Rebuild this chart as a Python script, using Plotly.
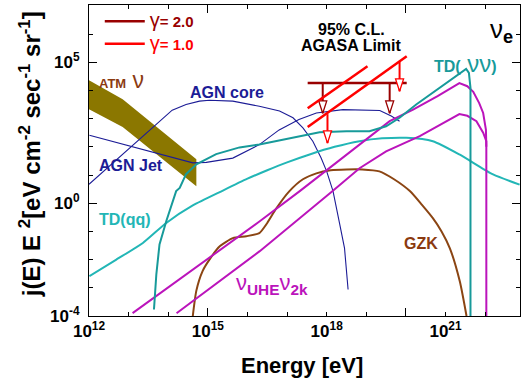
import numpy as np
import plotly.graph_objects as go

# ---- data: log10(E [eV]) and log10(E^2 j(E)) ----
atm_logE = [12.0, 12.85, 14.71]
atm_top = [4.36, 3.69, 1.56]
atm_bot = [3.33, 2.70, 0.60]

agn_core_logE = [12.0, 14.1, 14.45, 14.79, 15.04, 15.63, 16.3, 16.81, 17.15, 17.4, 17.65,
                 17.86, 18.0, 18.16, 18.33, 18.45, 18.54]
agn_core_logF = [0.67, 3.30, 3.50, 3.62, 3.65, 3.62, 3.44, 3.27, 3.03, 2.67, 2.2,
                 1.6, 1.13, 0.43, -0.75, -1.59, -3.06]

agn_jet_logE = [12.01, 13.36, 14.62, 14.96, 15.63, 16.3, 16.8, 17.3, 17.74, 18.41, 19.34, 19.63, 19.84]
agn_jet_logF = [2.41, 1.90, 1.43, 1.45, 1.60, 2.08, 2.6, 2.97, 3.2, 3.32, 3.29, 3.09, 2.91]

td_nn_logE = [13.64, 13.70, 13.78, 13.95, 14.2, 14.29, 14.45, 14.71, 15.21, 15.8, 16.3, 17.14,
              17.82, 18.5, 19.08, 19.5, 19.84, 20.26, 20.85, 21.35, 21.52, 21.59, 21.63, 21.63]
td_nn_logF = [-3.77, -2.52, -1.46, -0.64, 0.43, 0.54, 1.03, 1.38, 1.74, 1.98, 2.08, 2.32,
              2.52, 2.55, 2.55, 2.73, 3.03, 3.5, 4.09, 4.62, 4.76, 4.62, 4.09, -4.0]

td_qq_logE = [12.01, 12.69, 13.36, 13.95, 14.62, 15.38, 16.0, 16.5, 17.0, 17.57, 18.2, 18.83,
              19.4, 20.01, 20.68, 21.35, 22.2, 22.87]
td_qq_logF = [-2.59, -2.0, -1.41, -0.7, -0.08, 0.45, 0.87, 1.17, 1.45, 1.73, 2.0, 2.2,
              2.3, 2.32, 2.2, 1.73, 1.02, 0.66]

gzk_logE = [14.62, 14.71, 14.87, 15.04, 15.3, 15.63, 15.97, 16.3, 16.5, 16.73, 17.06, 17.4,
            17.74, 18.1, 18.5, 18.9, 19.33, 19.7, 20.1, 20.4, 20.68, 20.9, 21.11, 21.36, 21.53]
gzk_logF = [-4.0, -3.1, -2.4, -2.0, -1.53, -1.24, -1.17, -1.06, -0.7, -0.18, 0.43, 0.85,
            1.06, 1.17, 1.2, 1.2, 1.13, 0.85, 0.43, -0.05, -0.53, -1.0, -1.6, -2.77, -4.0]

uhe_hi_logE = [13.1, 16.31, 17.32, 18.58, 19.59, 20.18, 20.8, 21.35, 21.55, 21.7, 21.85,
               21.95, 22.02, 22.03]
uhe_hi_logF = [-3.9, -0.64, 0.43, 1.81, 2.91, 3.32, 3.8, 4.26, 4.15, 3.95, 3.55,
               3.2, 2.6, 2.0]

uhe_lo_logE = [14.21, 16.31, 18.15, 18.83, 19.5, 20.35, 21.35, 21.55, 21.78, 21.95, 22.03, 22.03]
uhe_lo_logF = [-3.9, -1.7, 0.43, 1.24, 1.84, 2.38, 3.16, 3.1, 2.91, 2.5, 2.2, -4.0]

# AGASA 95% C.L. limits
g2_logE = [17.52, 20.02]
g2_level = 4.26
g2_arrow_logE = [17.9, 19.59]
g2_arrow_tip = 3.19

g1_lines = [([17.52, 19.03], [3.37, 4.86]), ([17.52, 20.02], [2.70, 5.21])]
g1_arrow_logE = [18.02, 19.84]
g1_arrow_base = [3.16, 5.04]
g1_arrow_tip = [2.13, 3.97]

x_ticks = list(range(12, 23))
x_labels = {12: "10<sup>12</sup>", 15: "10<sup>15</sup>", 18: "10<sup>18</sup>", 21: "10<sup>21</sup>"}
x_major = [15, 20]
y_ticks = list(range(-4, 8))
y_labels = {-4: "10<sup>-4</sup>", 0: "10<sup>0</sup>", 5: "10<sup>5</sup>"}
y_major = [0, 5]

def p(v):
    return 10 ** np.asarray(v, dtype=float)

def seg(xs, y0s, y1s):
    sx, sy = [], []
    for e, a, b in zip(xs, y0s, y1s):
        sx += [10 ** e, 10 ** e, None]
        sy += [10 ** a, 10 ** b, None]
    return sx, sy

FONT = "Liberation Sans, Arial, sans-serif"
C_AGN = "#1c1c96"
C_TDNN = "#179a9a"
C_TDQQ = "#22b6b6"
C_GZK = "#8b4513"
C_UHE = "#bb14bb"
C_ATM = "#8b7700"
C_G2 = "#990000"
C_G1 = "#ff0000"

fig = go.Figure()

# ATM band
fig.add_trace(go.Scatter(x=p(atm_logE + atm_logE[::-1]), y=p(atm_top + atm_bot[::-1]),
                         fill="toself", fillcolor=C_ATM, line=dict(width=0, color=C_ATM),
                         mode="lines", showlegend=False, hoverinfo="skip"))

fig.add_trace(go.Scatter(x=p(agn_core_logE), y=p(agn_core_logF), mode="lines",
                         line=dict(color=C_AGN, width=1.1), showlegend=False))
fig.add_trace(go.Scatter(x=p(agn_jet_logE), y=p(agn_jet_logF), mode="lines",
                         line=dict(color=C_AGN, width=1.1), showlegend=False))
fig.add_trace(go.Scatter(x=p(td_qq_logE), y=p(td_qq_logF), mode="lines",
                         line=dict(color=C_TDQQ, width=2, shape="spline", smoothing=0.6), showlegend=False))
fig.add_trace(go.Scatter(x=p(gzk_logE), y=p(gzk_logF), mode="lines",
                         line=dict(color=C_GZK, width=2, shape="spline", smoothing=0.6), showlegend=False))
fig.add_trace(go.Scatter(x=p(uhe_hi_logE), y=p(uhe_hi_logF), mode="lines",
                         line=dict(color=C_UHE, width=2), showlegend=False))
fig.add_trace(go.Scatter(x=p(uhe_lo_logE), y=p(uhe_lo_logF), mode="lines",
                         line=dict(color=C_UHE, width=2), showlegend=False))
fig.add_trace(go.Scatter(x=p(td_nn_logE), y=p(td_nn_logF), mode="lines",
                         line=dict(color=C_TDNN, width=2), showlegend=False))

# AGASA gamma = 2.0
fig.add_trace(go.Scatter(x=p(g2_logE), y=p([g2_level] * 2), mode="lines",
                         line=dict(color=C_G2, width=2.5),
                         name='<span style="color:#990000;font-size:20px">γ</span>'
                              '<span style="color:#990000"><b>= 2.0</b></span>'))
sx, sy = seg(g2_arrow_logE, [g2_level] * 2, [g2_arrow_tip] * 2)
fig.add_trace(go.Scatter(x=sx, y=sy, mode="lines", line=dict(color=C_G2, width=2), showlegend=False))
fig.add_trace(go.Scatter(x=p(g2_arrow_logE), y=p([g2_arrow_tip] * 2), mode="markers",
                         marker=dict(symbol="arrow", angle=180, size=13, color="white",
                                     line=dict(color=C_G2, width=1.3)), showlegend=False))

# AGASA gamma = 1.0
for i, (le, lf) in enumerate(g1_lines):
    fig.add_trace(go.Scatter(x=p(le), y=p(lf), mode="lines", line=dict(color=C_G1, width=2.5),
                             showlegend=(i == 0), legendgroup="g1",
                             name='<span style="color:#ff0000;font-size:20px">γ</span>'
                                  '<span style="color:#ff0000"><b>= 1.0</b></span>'))
sx, sy = seg(g1_arrow_logE, g1_arrow_base, g1_arrow_tip)
fig.add_trace(go.Scatter(x=sx, y=sy, mode="lines", line=dict(color=C_G1, width=2), showlegend=False))
fig.add_trace(go.Scatter(x=p(g1_arrow_logE), y=p(g1_arrow_tip), mode="markers",
                         marker=dict(symbol="arrow", angle=180, size=13, color="white",
                                     line=dict(color=C_G1, width=1.3)), showlegend=False))

# invisible trace on overlay axes (carries the long ticks)
fig.add_trace(go.Scatter(x=[1e13], y=[1e1], xaxis="x2", yaxis="y2", mode="markers",
                         marker=dict(opacity=0), showlegend=False, hoverinfo="skip"))

def ann(text, lx, ly, color, size=16, xanchor="left"):
    fig.add_annotation(x=lx, y=ly, xref="x", yref="y", text=text, showarrow=False,
                       xanchor=xanchor, yanchor="middle",
                       font=dict(family=FONT, size=size, color=color))

ann('<b>ATM</b><span style="font-size:23px"> ν</span>', 12.19, 4.36, "#8b3a10", size=13)
ann("<b>AGN core</b>", 14.49, 3.94, C_AGN)
ann("<b>AGN Jet</b>", 12.19, 1.35, C_AGN)
ann("<b>TD(qq)</b>", 12.21, -0.57, C_TDQQ)
ann("<b>GZK</b>", 19.89, -1.42, "#8b3a10")
ann('<b>TD(</b><span style="font-size:24px"> νν</span><b>)</b>', 20.67, 4.96, C_TDNN)
ann("ν<sub><b>UHE</b></sub>ν<sub><b>2k</b></sub>", 15.67, -2.87, C_UHE, size=22)
ann("<b>95% C.L.</b>", 18.63, 6.17, "black", xanchor="center")
ann("<b>AGASA Limit</b>", 18.63, 5.6, "black", xanchor="center")
ann("ν<sub><b>e</b></sub>", 22.06, 6.13, "black", size=26)

# axis titles (placed as paper annotations for exact position)
fig.add_annotation(x=-0.137, y=0.52, xref="paper", yref="paper", showarrow=False,
                   textangle=-90, xanchor="center", yanchor="middle",
                   text="<b>j(E) E <sup>2</sup>[eV cm<sup>-2</sup> sec<sup>-1</sup> sr<sup>-1</sup>]</b>",
                   font=dict(family=FONT, size=24, color="black"))
fig.add_annotation(x=0.495, y=-0.158, xref="paper", yref="paper", showarrow=False,
                   xanchor="center", yanchor="middle", text="<b>Energy [eV]</b>",
                   font=dict(family=FONT, size=22, color="black"))

tick_font = dict(family=FONT, size=17, color="black")
fig.update_layout(
    width=521, height=382,
    margin=dict(l=89, r=1, t=5, b=66, autoexpand=False),
    paper_bgcolor="white", plot_bgcolor="white",
    font=dict(family=FONT, color="black"),
    xaxis=dict(type="log", range=[12, 22.88], showgrid=False, zeroline=False, automargin=False,
               showline=True, linecolor="black", linewidth=1, mirror="ticks",
               ticks="inside", ticklen=4, tickcolor="black",
               tickvals=p(x_ticks), ticktext=[("<b>%s</b>" % x_labels[t]) if t in x_labels else "" for t in x_ticks],
               tickfont=tick_font),
    yaxis=dict(type="log", range=[-4, 7.03], showgrid=False, zeroline=False, automargin=False,
               showline=True, linecolor="black", linewidth=1, mirror="ticks",
               ticks="inside", ticklen=4, tickcolor="black",
               tickvals=p(y_ticks), ticktext=[("<b>%s</b>" % y_labels[t]) if t in y_labels else "" for t in y_ticks],
               tickfont=tick_font, ticklabelstandoff=5),
    xaxis2=dict(type="log", range=[12, 22.88], overlaying="x", side="bottom", showgrid=False,
                zeroline=False, showline=False, mirror="ticks", ticks="inside", ticklen=8,
                tickcolor="black", tickvals=p(x_major), showticklabels=False),
    yaxis2=dict(type="log", range=[-4, 7.03], overlaying="y", side="left", showgrid=False,
                zeroline=False, showline=False, mirror="ticks", ticks="inside", ticklen=8,
                tickcolor="black", tickvals=p(y_major), showticklabels=False),
    legend=dict(x=0.025, y=1.0, xanchor="left", yanchor="top", bgcolor="rgba(0,0,0,0)",
                font=dict(family=FONT, size=15), itemwidth=40, tracegroupgap=0),
)

fig.write_html("out.html", config={"displayModeBar": False},
               post_script="document.body.style.margin='0';document.body.style.overflow='hidden';")
